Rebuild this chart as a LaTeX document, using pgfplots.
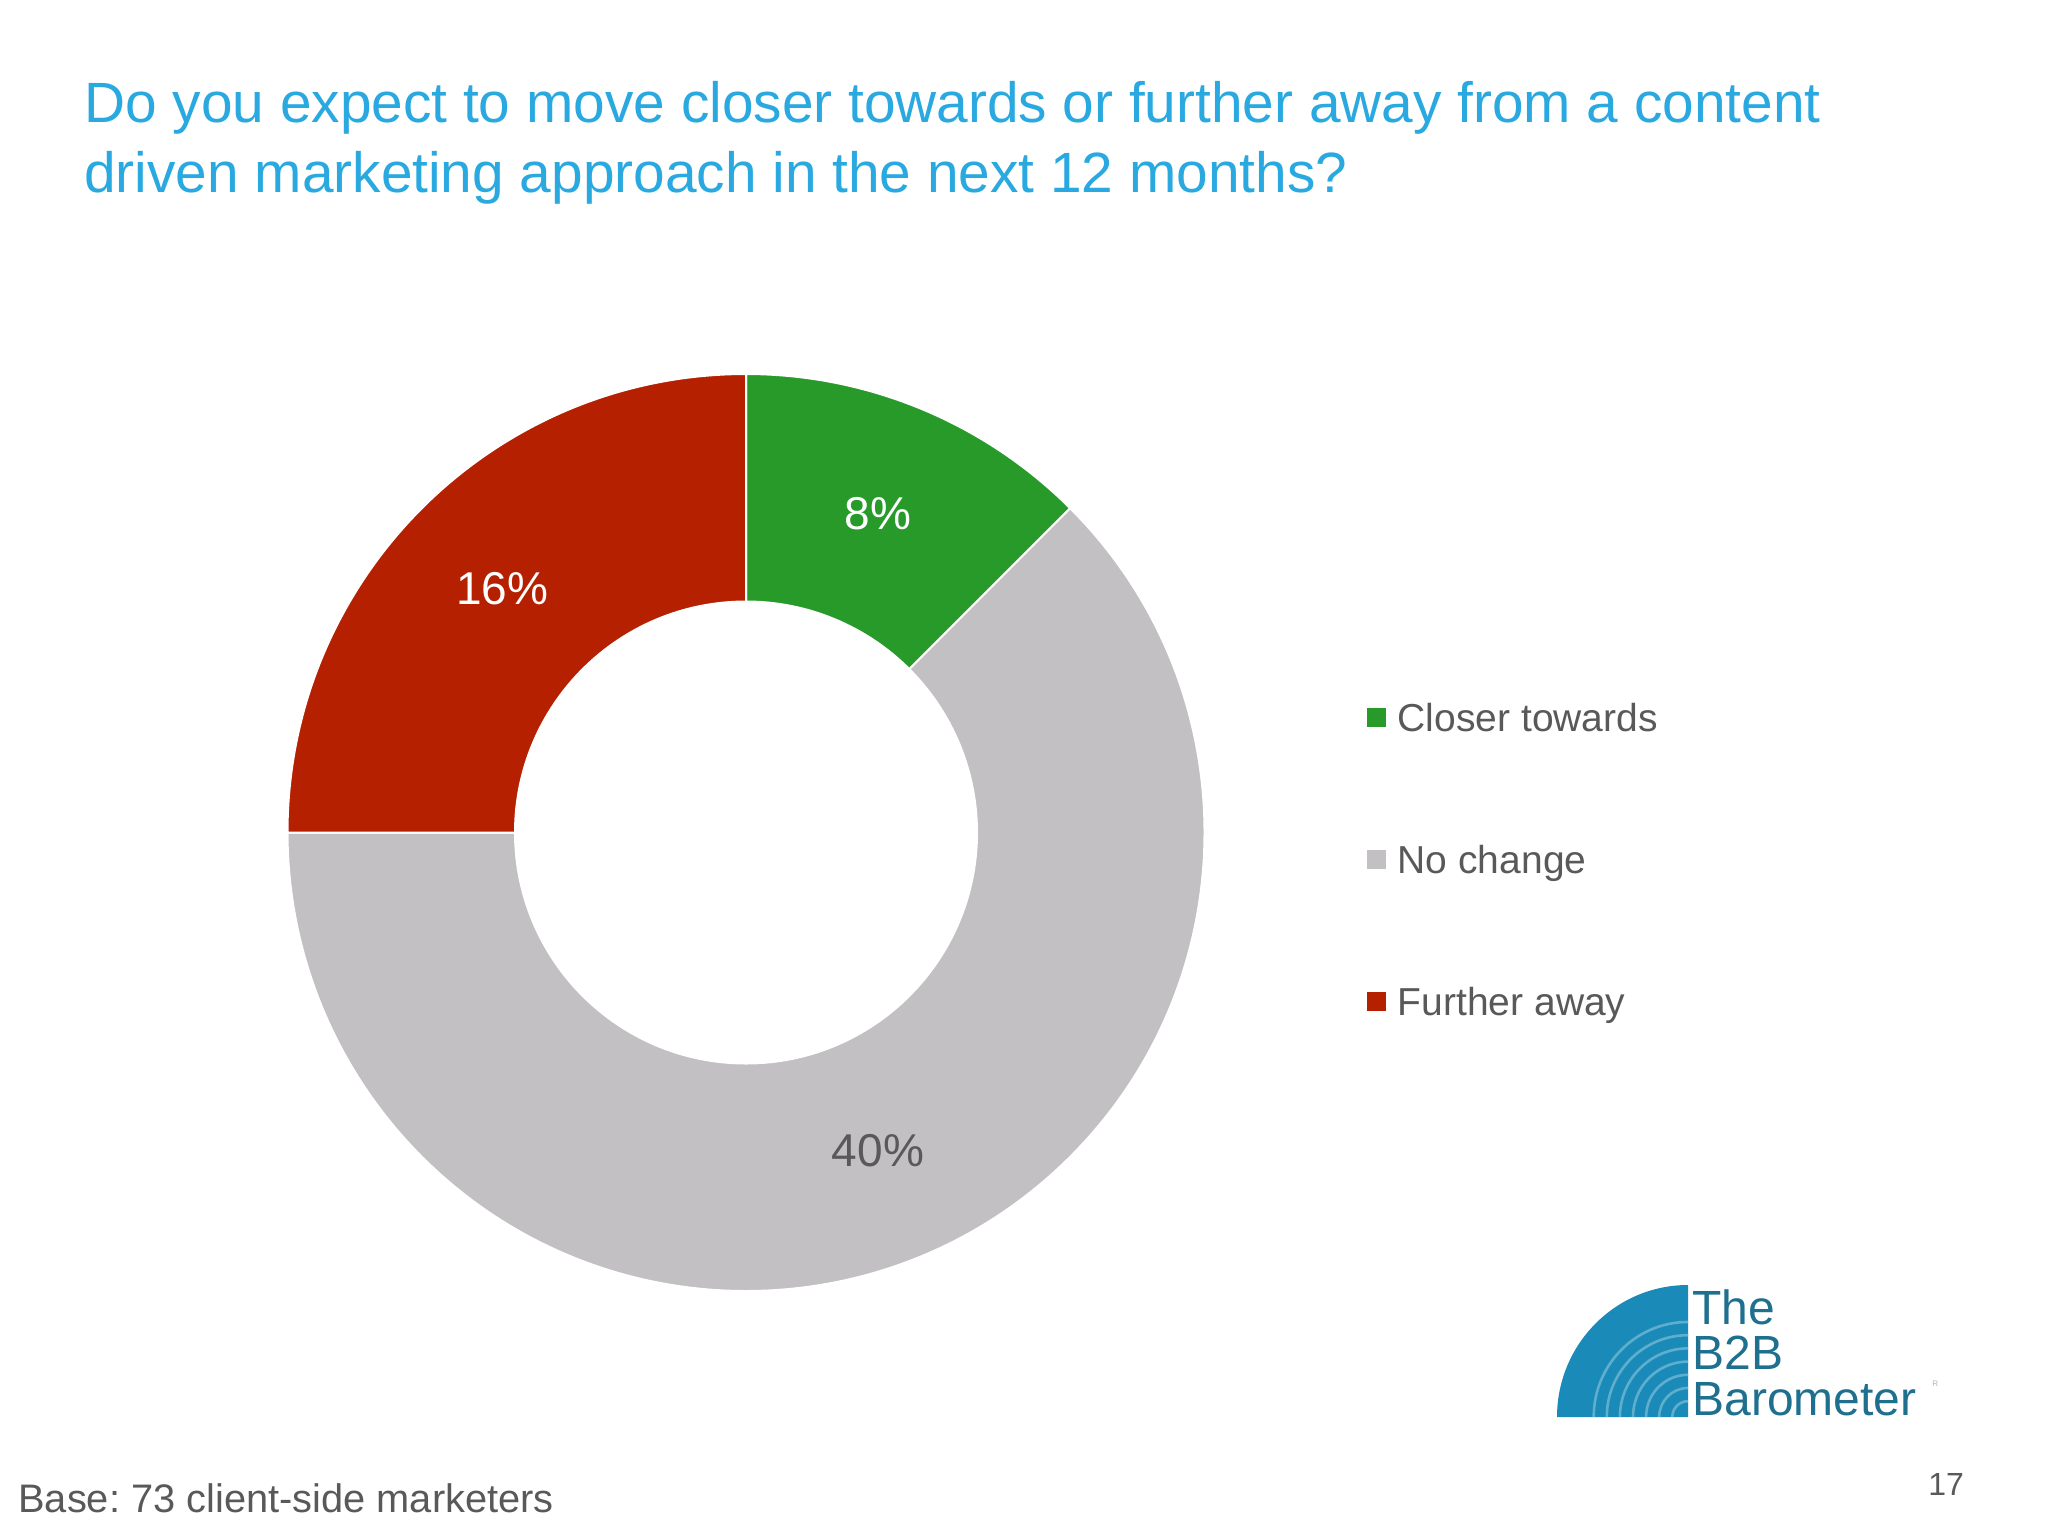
\documentclass[border=0pt]{standalone}
\usepackage{pgfplots}
\pgfplotsset{compat=1.18}
\usepackage{pgfplotstable}
\usetikzlibrary{calc}
\usepackage{fontspec}
\setmainfont{Liberation Sans}
\frenchspacing
\definecolor{ctitle}{HTML}{29A9E0}
\definecolor{cgreen}{HTML}{279A2A}
\definecolor{cgray}{HTML}{C2C0C2}
\definecolor{cred}{HTML}{B52100}
\definecolor{ctext}{HTML}{595959}
\definecolor{clogo}{HTML}{1A8BB9}
\definecolor{clogotext}{HTML}{1F6F8F}

\pgfplotstableread{
label value
Closer 8
NoChange 40
Further 16
}\datatable

\begin{document}
\begin{tikzpicture}
\pgfplotstablegetelem{0}{value}\of\datatable \let\va\pgfplotsretval
\pgfplotstablegetelem{1}{value}\of\datatable \let\vb\pgfplotsretval
\pgfplotstablegetelem{2}{value}\of\datatable \let\vc\pgfplotsretval
\pgfmathsetmacro\tot{\va+\vb+\vc}
\pgfmathsetmacro\aA{90}
\pgfmathsetmacro\aB{90-360*\va/\tot}
\pgfmathsetmacro\aC{\aB-360*\vb/\tot}
\pgfmathsetmacro\aD{\aC-360*\vc/\tot}
\pgfmathsetmacro\mA{(\aA+\aB)/2}
\pgfmathsetmacro\mB{(\aB+\aC)/2}
\pgfmathsetmacro\mC{(\aC+\aD)/2}
\def\Ro{229.25pt}
\def\Ri{115.5pt}
\def\Rm{172.4pt}
\newcommand\wedgeseg[3]{%
  \fill[#3, draw=white, line width=1pt]
    ($(axis cs:746,832.5)+(#1:\Ro)$) arc[start angle=#1,end angle=#2,radius=\Ro]
    -- ($(axis cs:746,832.5)+(#2:\Ri)$) arc[start angle=#2,end angle=#1,radius=\Ri] -- cycle;}
\begin{axis}[
  width=1024pt, height=768pt, scale only axis,
  xmin=0, xmax=2048, ymin=0, ymax=1536, y dir=reverse,
  hide axis, clip=false,
  legend style={draw=none, fill=none, inner sep=0pt, outer sep=0pt,
    at={(axis cs:1367,703)}, anchor=north west,
    font=\fontsize{19.5}{23}\selectfont\color{ctext},
    nodes={inner sep=0pt, text height=14pt, text depth=0pt},
    row sep=57pt, column sep=6pt},
  legend cell align=left,
  legend image code/.code={\fill[#1] (0pt,-4.75pt) rectangle (9pt,4.25pt);},
]
\path (axis cs:0,0) rectangle (axis cs:2048,1536);
\addlegendimage{cgreen}\addlegendentry{Closer towards}
\addlegendimage{cgray}\addlegendentry{No change}
\addlegendimage{cred}\addlegendentry{Further away}

\wedgeseg{\aA}{\aB}{cgreen}
\wedgeseg{\aB}{\aC}{cgray}
\wedgeseg{\aC}{\aD}{cred}

\node[white, font=\fontsize{23}{27}\selectfont] at ($(axis cs:746,832.5)+(\mA:\Rm)$) {8\%};
\node[ctext, font=\fontsize{23}{27}\selectfont] at ($(axis cs:746,832.5)+(\mB:\Rm)$) {40\%};
\node[white, font=\fontsize{23}{27}\selectfont] at ($(axis cs:746,832.5)+(\mC:\Rm)$) {16\%};

% title
\node[ctitle, anchor=base west, inner sep=0pt, font=\fontsize{28.4}{33}\selectfont] at (axis cs:84,122) {Do you expect to move closer towards or further away from a content};
\node[ctitle, anchor=base west, inner sep=0pt, font=\fontsize{28.4}{33}\selectfont] at (axis cs:84,192) {driven marketing approach in the next 12 months?};

% footer
\node[ctext, anchor=base west, inner sep=0pt, font=\fontsize{19.9}{24}\selectfont] at (axis cs:18,1512) {Base: 73 client-side marketers};
\node[ctext, anchor=base west, inner sep=0pt, font=\fontsize{16}{19}\selectfont] at (axis cs:1928,1495) {17};

% logo
\fill[clogo] (axis cs:1688,1417) -- ++(180:65.5pt) arc[start angle=180, end angle=90, x radius=65.5pt, y radius=66pt] -- cycle;
\pgfplotsinvokeforeach{0.12,0.22,0.32,0.42,0.52,0.62,0.72}{
  \draw[white!30!clogo, line width=1.3pt] ($(axis cs:1688,1417)+(180:#1*65.5pt)$) arc[start angle=180, end angle=90, x radius=#1*65.5pt, y radius=#1*66pt];
}
\node[clogotext, anchor=base west, inner sep=0pt, font=\fontsize{24}{26}\selectfont] at (axis cs:1692,1324) {The};
\node[clogotext, anchor=base west, inner sep=0pt, font=\fontsize{24}{26}\selectfont] at (axis cs:1692,1369) {B2B};
\node[clogotext, anchor=base west, inner sep=0pt, font=\fontsize{24}{26}\selectfont] at (axis cs:1692,1415) {Barometer};
\node[gray!60, anchor=base west, inner sep=0pt, font=\fontsize{4}{5}\selectfont] at (axis cs:1932,1386) {R};
\end{axis}
\end{tikzpicture}
\end{document}
